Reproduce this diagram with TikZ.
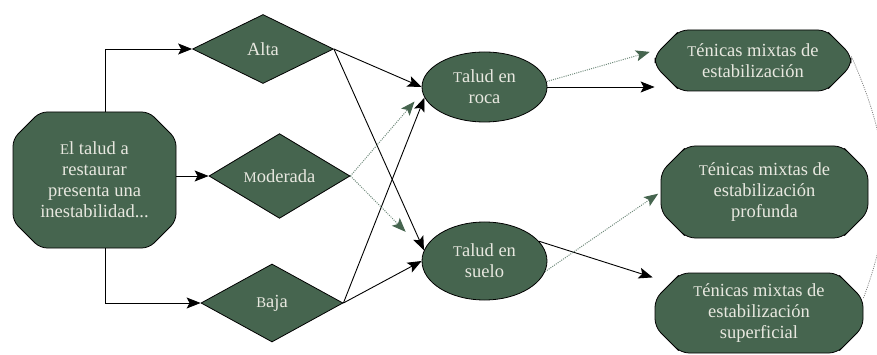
\documentclass[tikz,border=0pt]{standalone}
\usepackage{graphicx}
\usepackage{fontspec}
\setmainfont{Liberation Serif}
\usetikzlibrary{shapes.geometric,shapes.misc,arrows.meta}

\definecolor{moss}{HTML}{46654F}
\definecolor{paper}{HTML}{E8E8E0}
\definecolor{dotline}{HTML}{6F8A7B}

% capitals set at small-cap height
\newcommand{\lowcap}[1]{\scalebox{0.8}{#1}}

\tikzset{
  base/.style={draw=black, line width=0.8pt, fill=moss, text=paper,
    font=\fontsize{18.5}{21}\selectfont, align=center, inner sep=0pt},
  panel/.style={base, chamfered rectangle, chamfered rectangle xsep=15pt,
    chamfered rectangle ysep=12pt, rounded corners=7pt},
  sidepanel/.style={base, chamfered rectangle, chamfered rectangle xsep=18pt,
    chamfered rectangle ysep=8pt, rounded corners=8pt},
  choice/.style={base, diamond},
  terrain/.style={base, ellipse},
  solidarrow/.style={draw=black, line width=0.9pt,
    -{Stealth[length=14pt,width=11pt,inset=3pt]}},
  dotarrow/.style={draw=dotline, line width=1pt, dash pattern=on 1pt off 1.2pt,
    -{Stealth[length=14pt,width=11pt,inset=3pt,color=moss,fill=moss]}},
  dotcurve/.style={draw=gray, line width=0.8pt, dash pattern=on 1pt off 1.2pt},
}

\begin{document}
\begin{tikzpicture}[x=1pt,y=-1pt]
\useasboundingbox (0,0) rectangle (877,355);
\clip (0,0) rectangle (877,355);

% start question
\node[panel, minimum width=163pt, minimum height=136pt] (main) at (94.5,180)
  {\lowcap{E}l talud a\\restaurar\\presenta una\\inestabilidad...};

% degree of instability
\node[choice, minimum width=141pt, minimum height=69pt] (alta) at (263,49) {Alta};
\node[choice, minimum width=141pt, minimum height=77pt] (moderada) at (279.5,176) {\lowcap{M}oderada};
\node[choice, minimum width=142pt, minimum height=78pt] (baja) at (272,303) {\lowcap{B}aja};

% slope material
\node[terrain, minimum width=125pt, minimum height=70pt] (roca) at (484.5,87) {\lowcap{T}alud en\\roca};
\node[terrain, minimum width=125pt, minimum height=78pt] (suelo) at (484.5,261) {\lowcap{T}alud en\\suelo};

% stabilisation techniques
\node[sidepanel, minimum width=196pt, minimum height=61pt] (tbox) at (753,60.5)
  {\lowcap{T}énicas mixtas de\\estabilización};
\node[sidepanel, minimum width=207pt, minimum height=92pt] (mbox) at (764.5,192)
  {\lowcap{T}énicas mixtas de\\estabilización\\profunda};
\node[sidepanel, minimum width=208pt, minimum height=80pt] (bbox) at (759,313)
  {\lowcap{T}énicas mixtas de\\estabilización\\superficial};

% question to degrees
\draw[solidarrow] ([xshift=10.5pt]main.north) |- (alta.west);
\draw[solidarrow] (main.east |- moderada.west) -- (moderada.west);
\draw[solidarrow] ([xshift=10.5pt]main.south) |- (baja.west);

% degrees to material
\draw[solidarrow] (alta.east) -- (roca.west);
\draw[solidarrow] (alta.east) -- (suelo.170);
\draw[solidarrow] (baja.east) -- (roca.190);
\draw[solidarrow] (baja.east) -- (suelo.west);
\draw[dotarrow, shorten >=12pt] (moderada.east) -- (roca.185);
\draw[dotarrow, shorten >=26pt] (moderada.east) -- (suelo.170);

% material to techniques
\draw[solidarrow] (roca.east) -- (roca.east -| tbox.west);
\draw[dotarrow, shorten >=5pt] (roca.5) -- ([yshift=10pt]tbox.west);
\draw[solidarrow, shorten >=2pt] (suelo.20) -- ([yshift=35pt]bbox.west);
\draw[dotarrow, shorten >=3pt] (suelo.-10) -- (mbox.west);

% link between the outer technique boxes
\draw[dotcurve] ([yshift=4pt]tbox.east) .. controls (893,150) and (895,215) .. ([yshift=15pt]bbox.east);
\end{tikzpicture}
\end{document}
